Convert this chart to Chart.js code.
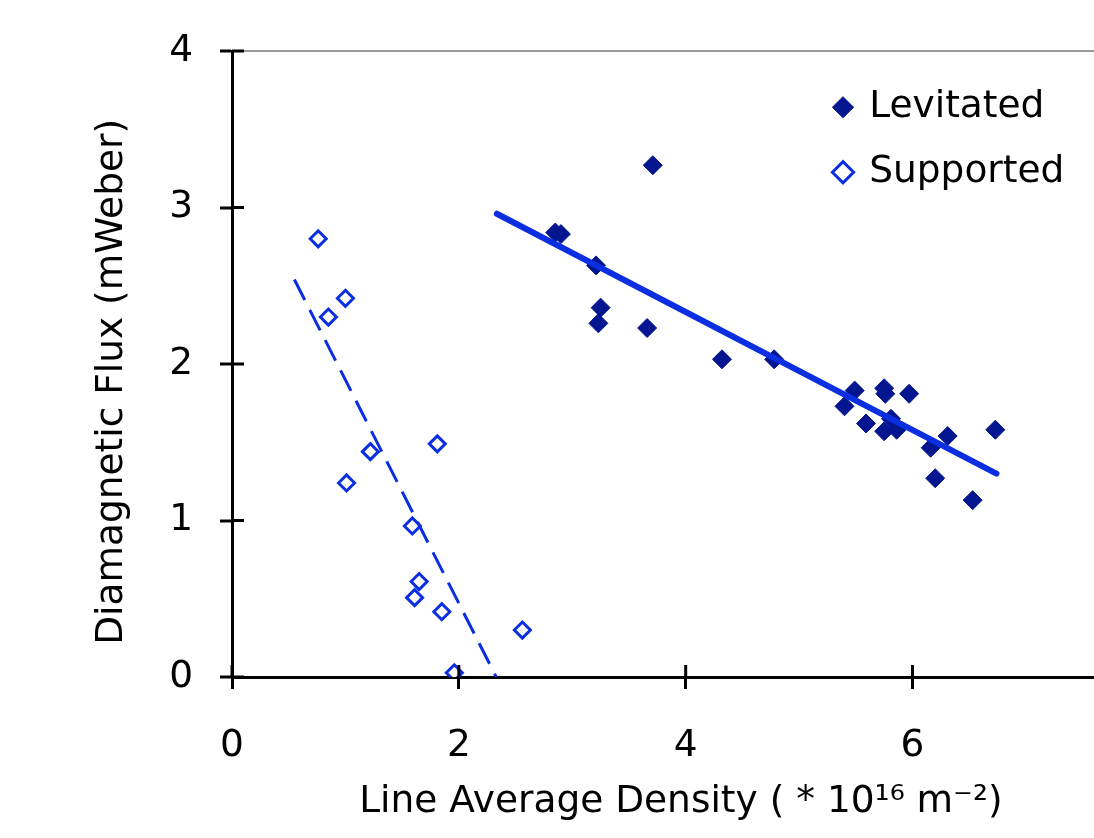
<!DOCTYPE html>
<html>
<head>
<meta charset="utf-8">
<script src="https://cdn.jsdelivr.net/npm/chart.js@4/dist/chart.umd.min.js"></script>
<style>
  html, body { margin: 0; padding: 0; overflow: hidden; background: #fff; }
  canvas { display: block; }
</style>
</head>
<body>
<canvas id="chart" width="1094" height="838"></canvas>
<script>
// values
const levitatedX = [2.85, 2.90, 3.71, 3.21, 3.25, 3.23, 3.66, 4.32, 4.78, 5.49, 5.40, 5.75, 5.76, 5.97, 5.59, 5.81, 5.75, 5.86, 6.31, 6.16, 6.73, 6.20, 6.53];
const levitatedY = [2.84, 2.83, 3.27, 2.63, 2.36, 2.26, 2.23, 2.03, 2.03, 1.83, 1.73, 1.845, 1.81, 1.81, 1.62, 1.65, 1.57, 1.58, 1.54, 1.465, 1.58, 1.27, 1.13];
const supportedX = [0.76, 1.00, 0.85, 1.81, 1.22, 1.01, 1.59, 1.65, 1.61, 1.85, 2.56, 1.96];
const supportedY = [2.80, 2.42, 2.30, 1.49, 1.44, 1.24, 0.965, 0.61, 0.507, 0.417, 0.30, 0.027];
// trend line end points
const levitatedFitX = [2.335, 6.74];
const levitatedFitY = [2.96, 1.30];
const supportedFitX = [0.55, 2.33];
const supportedFitY = [2.54, 0.0];
const xTicks = [0, 2, 4, 6];

const toPoints = (xs, ys) => xs.map((x, i) => ({x: x, y: ys[i]}));

const navy = '#03168f';
const blue = '#0a2ee0';
const font = "'DejaVu Sans', Verdana, sans-serif";
const fontSize = 37.5;

// tick marks in the reference cross the axis line, draw the inner half
const crossTicks = {
	id: 'crossTicks',
	afterDraw(chart) {
		const ctx = chart.ctx;
		const {x, y} = chart.scales;
		ctx.save();
		ctx.strokeStyle = '#000';
		ctx.lineWidth = 3;
		x.ticks.forEach(t => {
			const px = x.getPixelForValue(t.value);
			ctx.beginPath(); ctx.moveTo(px, y.bottom); ctx.lineTo(px, y.bottom - 12); ctx.stroke();
		});
		y.ticks.forEach(t => {
			const py = y.getPixelForValue(t.value);
			ctx.beginPath(); ctx.moveTo(x.left, py); ctx.lineTo(x.left + 12, py); ctx.stroke();
		});
		ctx.restore();
	}
};

// put the legend inside the plot, top right
const legendInside = {
	id: 'legendInside',
	afterLayout(chart) {
		const lg = chart.legend;
		if (!lg) return;
		lg.left = 808;
		lg.top = 61;
		lg.right = lg.left + lg.width;
		lg.bottom = lg.top + 200;
	}
};

new Chart(document.getElementById('chart'), {
	type: 'scatter',
	data: {
		datasets: [{
			label: 'Levitated',
			data: toPoints(levitatedX, levitatedY),
			pointStyle: 'rectRot',
			pointRadius: 9.5,
			pointHoverRadius: 9.5,
			backgroundColor: navy,
			borderColor: navy,
			borderWidth: 1,
			order: 1
		}, {
			label: 'Supported',
			data: toPoints(supportedX, supportedY),
			pointStyle: 'rectRot',
			pointRadius: 8,
			pointHoverRadius: 8,
			backgroundColor: '#fff',
			borderColor: blue,
			borderWidth: 3,
			order: 1
		}, {
			label: 'fitLev',
			type: 'line',
			data: toPoints(levitatedFitX, levitatedFitY),
			borderColor: blue,
			borderWidth: 6,
			borderCapStyle: 'round',
			pointRadius: 0,
			fill: false,
			order: 0
		}, {
			label: 'fitSup',
			type: 'line',
			data: toPoints(supportedFitX, supportedFitY),
			borderColor: blue,
			borderWidth: 3,
			borderDash: [23, 11],
			pointRadius: 0,
			fill: false,
			order: 0
		}]
	},
	options: {
		responsive: false,
		animation: false,
		layout: { autoPadding: false, padding: { top: 51, right: 0, left: 0, bottom: 0 } },
		plugins: {
			tooltip: { enabled: false },
			legend: {
				position: 'chartArea',
				align: 'start',
				labels: {
					filter: item => item.text === 'Levitated' || item.text === 'Supported',
					usePointStyle: true,
					boxWidth: 15,
					boxHeight: 15,
					padding: 27.5,
					color: '#000',
					font: { family: font, size: fontSize }
				}
			}
		},
		scales: {
			x: {
				type: 'linear',
				min: 0,
				max: 7.6,
				afterBuildTicks: axis => { axis.ticks = xTicks.map(v => ({value: v})); },
				afterFit: axis => { axis.height = 161; axis.paddingRight = 0; axis.paddingLeft = 0; },
				border: { color: '#000', width: 3 },
				grid: { drawOnChartArea: false, tickColor: '#000', tickLength: 12, tickWidth: 3 },
				ticks: { color: '#000', padding: 35, maxRotation: 0, font: { family: font, size: fontSize } },
				title: {
					display: true,
					text: '   Line Average Density ( * 10\u00b9\u2076 m\u207b\u00b2)',
					color: '#000',
					padding: { top: 0, bottom: 13 },
					font: { family: font, size: fontSize }
				}
			},
			y: {
				type: 'linear',
				min: 0,
				max: 4,
				afterFit: axis => { axis.width = 232; },
				border: { color: '#000', width: 3 },
				grid: {
					color: c => (c.tick && c.tick.value === 4) ? '#9a9a9a' : 'rgba(0,0,0,0)',
					lineWidth: 2,
					tickColor: '#000',
					tickLength: 12,
					tickWidth: 3
				},
				ticks: { stepSize: 1, color: '#000', padding: 27, font: { family: font, size: fontSize } },
				title: {
					display: true,
					text: 'Diamagnetic Flux (mWeber)   ',
					color: '#000',
					padding: { top: 89.5, bottom: 0 },
					font: { family: font, size: fontSize }
				}
			}
		}
	},
	plugins: [crossTicks, legendInside]
});
</script>
</body>
</html>
